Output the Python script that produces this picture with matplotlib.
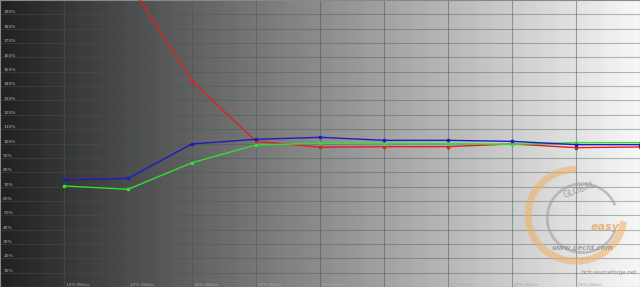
import matplotlib.pyplot as plt
import numpy as np
from matplotlib.patches import Arc

# % white levels and measured luminance per channel (% of target)
levels = [10, 20, 30, 40, 50, 60, 70, 80, 90, 100]
red = [250, 213, 143.6, 101.5, 97.4, 97.8, 97.8, 99.7, 97.1, 97.6]
green = [70.4, 68.1, 86.6, 99.0, 100.1, 99.9, 99.9, 99.4, 100.6, 100.6]
blue = [74.6, 75.7, 99.7, 102.9, 104.3, 102.2, 102.2, 101.5, 99.2, 99.2]

x_labels = ["%d%% White" % v for v in range(10, 100, 10)]
y_labels = ["%d%%" % v for v in range(10, 200, 10)]

fig = plt.figure(figsize=(6.4, 2.87), dpi=100)
ax = fig.add_axes([0, 0, 1, 1])
ax.set_xlim(0, 100)
ax.set_ylim(0, 200)

# grey background, dark on the left to white on the right
grad = np.linspace(0.13, 0.97, 256).reshape(1, -1)
ax.imshow(grad, cmap="gray", vmin=0, vmax=1, extent=[0, 100, 0, 200],
          aspect="auto", zorder=0)

for v in range(10, 100, 10):
    ax.axvline(v, color="#3d5a5a", lw=0.8, alpha=0.5, zorder=1)
for v in range(10, 200, 10):
    ax.axhline(v, color="#3d5a5a", lw=0.8, alpha=0.4, zorder=1)

for i, lab in enumerate(y_labels):
    ax.text(0.5, (i + 1) * 10 + 1.3, lab, fontsize=3.2, color="#b8b8b8",
            va="center", ha="left", zorder=2)
for i, lab in enumerate(x_labels):
    ax.text((i + 1) * 10 + 0.3, 1.5, lab, fontsize=3.2, color="#a8a8a8",
            va="center", ha="left", zorder=2)

# watermark
ax.add_patch(Arc((90, 50), 15, 64, theta1=90, theta2=330, color="#f0b060",
                 lw=5, alpha=0.55, zorder=2))
ax.add_patch(Arc((91, 48), 11, 48, theta1=60, theta2=300, color="#9a9a9a",
                 lw=2, alpha=0.55, zorder=2))
ax.text(90.5, 68, "GLOBAL", fontsize=6, color="#808080", rotation=20,
        ha="center", va="center", alpha=0.7, zorder=2)
ax.text(94.5, 42, "easy", fontsize=8, color="#e0a050", style="italic",
        fontweight="bold", ha="center", va="center", alpha=0.7, zorder=2)
ax.text(91, 27, "www.gecid.com", fontsize=5, color="#909090",
        fontweight="bold", style="italic", ha="center", va="center",
        alpha=0.8, zorder=2)
ax.text(99.5, 10, "hcfr.sourceforge.net", fontsize=4, color="#8c8c8c",
        ha="right", va="center", zorder=2)

ax.plot(levels, red, color="#dd2222", lw=1, marker="s", ms=2, zorder=3)
ax.plot(levels, green, color="#33dd33", lw=1, marker="s", ms=2, zorder=4)
ax.plot(levels, blue, color="#1c1cc0", lw=1, marker="s", ms=2, zorder=5)

ax.set_xticks([])
ax.set_yticks([])
for s in ax.spines.values():
    s.set_color("#888888")
    s.set_linewidth(0.8)

fig.savefig("out.png", dpi=100)
